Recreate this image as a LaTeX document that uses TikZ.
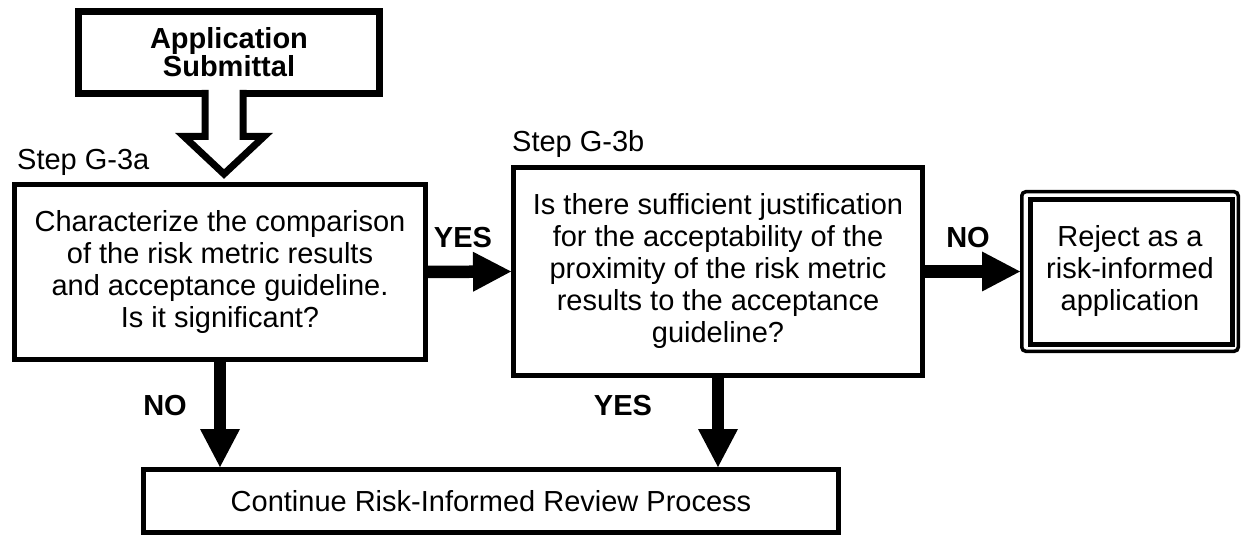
\documentclass[tikz,border=0pt]{standalone}
\usepackage{fontspec}
\setmainfont{Liberation Sans}
\usetikzlibrary{arrows.meta,calc}
\begin{document}
\begin{tikzpicture}[x=1pt,y=-1pt,
  textfont/.style={font=\fontsize{29}{32}\selectfont},
  box/.style={draw, line width=5pt, inner sep=0pt, align=center, textfont},
  lbl/.style={font=\bfseries\fontsize{29}{32}\selectfont, inner sep=0pt, anchor=base},
  steplbl/.style={textfont, inner sep=0pt, anchor=base west},
  flow/.style={line width=12.5pt, -{Triangle[length=38pt,width=40pt,line width=0pt]}},
]
\useasboundingbox (0,0) rectangle (1242,537);

% boxes
\node[box, line width=7pt, minimum width=301pt, minimum height=82pt,
      font=\bfseries\fontsize{29}{28}\selectfont] (app) at (229,52.5) {Application\\Submittal};
\node[box, minimum width=411pt, minimum height=175pt] (cmp) at (220,272)
  {Characterize the comparison\\of the risk metric results\\and acceptance guideline.\\Is it significant?};
\node[box, minimum width=409pt, minimum height=208pt] (just) at (718,271.5)
  {Is there sufficient justification\\for the acceptability of the\\proximity of the risk metric\\results to the acceptance\\guideline?};
\node[box, line width=3.5pt, rounded corners=4pt, minimum width=216.5pt, minimum height=159.5pt] (rej) at (1130,271.5)
  {Reject as a\\risk-informed\\application};
\draw[line width=5pt] ($(rej.north west)+(10,9.5)$) rectangle ($(rej.south east)+(-8,-9)$);
\node[box, minimum width=695pt, minimum height=63pt] (cont) at (491,501)
  {Continue Risk-Informed Review Process};

% step captions
\node[steplbl] (sa) at (17,170) {Step G-3a};
\node[steplbl] (sb) at (512,152) {Step G-3b};

% hollow arrow from the submittal into step G-3a
\coordinate (tip) at (224,174);
\filldraw[fill=white, draw=black, line width=7pt, miter limit=10]
  ($(tip|-app.south)+(-19,-7)$) -- ($(tip)+(-19,-37.5)$) -- ($(tip)+(-40,-37.5)$)
  -- (tip) -- ($(tip)+(40,-37.5)$) -- ($(tip)+(19,-37.5)$) -- ($(tip|-app.south)+(19,-7)$);

% decision arrows
\draw[flow] (cmp.east) -- (just.west);
\draw[flow] (just.east) -- (rej.west);
\draw[flow] (cmp.south) -- (cmp.south |- cont.north);
\draw[flow] (just.south) -- (just.south |- cont.north);

% arrow labels
\node[lbl] (y1) at (463,248) {YES};
\node[lbl] (n1) at (968,248) {NO};
\node[lbl] (n2) at (165,415) {NO};
\node[lbl] (y2) at (623,415) {YES};
\end{tikzpicture}
\end{document}
